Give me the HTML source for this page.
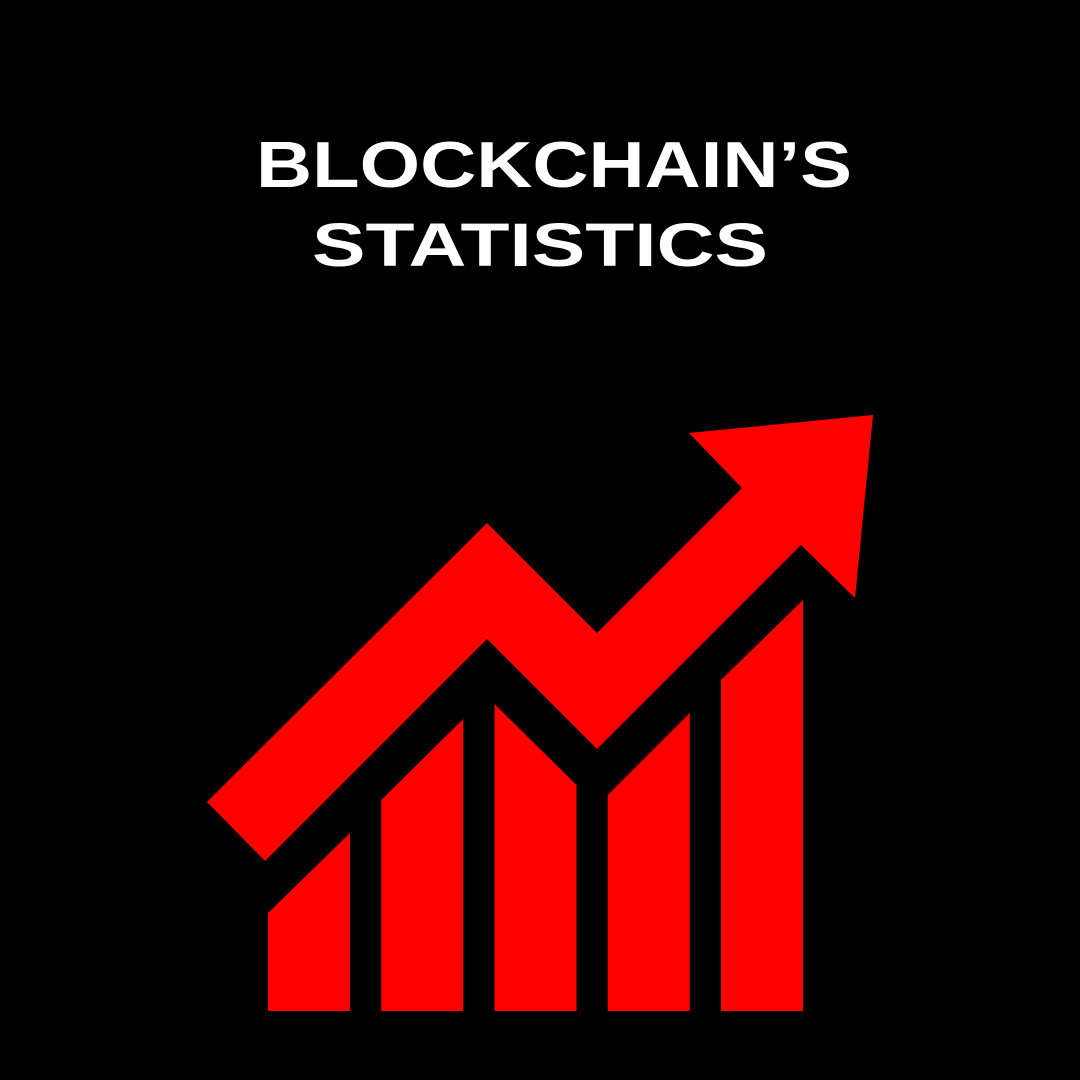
<!DOCTYPE html>
<html><head><meta charset="utf-8"><style>
html,body{margin:0;padding:0;background:#000;}
svg{display:block}
</style></head><body>
<svg id="chart" width="1080" height="1080" viewBox="0 0 1080 1080" xmlns="http://www.w3.org/2000/svg">
<rect width="1080" height="1080" fill="#000"/>
<text x="256" y="187" font-family="Liberation Sans, sans-serif" font-weight="bold" font-size="65" fill="#fff" textLength="596" lengthAdjust="spacingAndGlyphs">BLOCKCHAIN’S</text>
<text x="312" y="266" font-family="Liberation Sans, sans-serif" font-weight="bold" font-size="61" fill="#fff" textLength="456" lengthAdjust="spacingAndGlyphs">STATISTICS</text>
<g id="bars"></g>
<polygon fill="#ff0000" points="207,802 487,523 597,633 742,488 689,433 873,415 855,598 801,545 597,749 487,639 265,861"/>
</svg>
<script>
const categories = ["b1","b2","b3","b4","b5"];
const leftValues = [98, 211, 307, 216, 331];
const rightValues = [178, 292, 226, 298, 411];
const baseY = 1011, x0 = 268, step = 113.25, barW = 82;
function xPos(i){ return x0 + i*step; }
function yPos(v){ return baseY - v; }
const g = document.getElementById('bars');
categories.forEach((c,i)=>{
  const p = document.createElementNS('http://www.w3.org/2000/svg','polygon');
  const xl = xPos(i), xr = xl + barW;
  p.setAttribute('points', `${xl},${baseY} ${xl},${yPos(leftValues[i])} ${xr},${yPos(rightValues[i])} ${xr},${baseY}`);
  p.setAttribute('fill','#ff0000');
  
  
  g.appendChild(p);
});
</script>
</body></html>
